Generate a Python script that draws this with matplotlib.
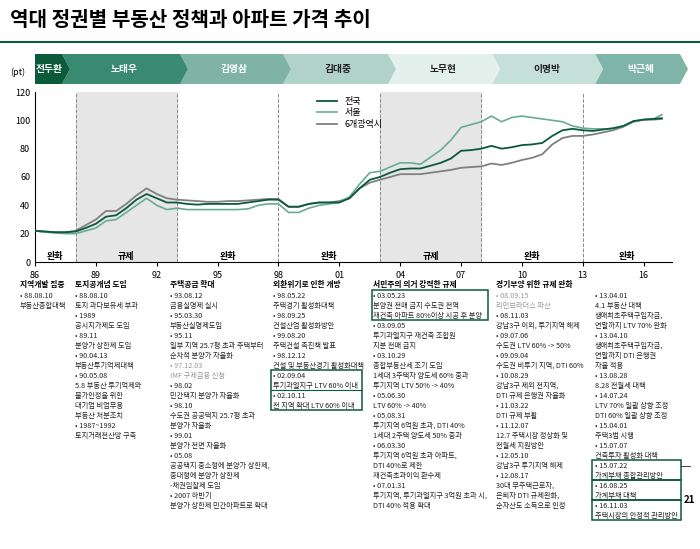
import matplotlib
matplotlib.use("Agg")
import matplotlib.pyplot as plt
from matplotlib import font_manager as fm
from matplotlib.patches import Polygon, Rectangle
import numpy as np

_names = {f.name for f in fm.fontManager.ttflist}
_cjk = [n for n in ['Noto Sans CJK KR', 'Noto Sans CJK SC', 'Noto Sans CJK JP'] if n in _names]
if not _cjk:
    for f in fm.findSystemFonts():
        if 'CJK' in f or 'cjk' in f:
            fm.fontManager.addfont(f)
    _cjk = [f.name for f in fm.fontManager.ttflist if 'CJK' in f.name][:1]
plt.rcParams['font.family'] = _cjk + ['DejaVu Sans']

years = np.arange(1986, 2017, 0.5).tolist() + [2016.9]
national = [22,21.5,21,21,21.5,24,27,32,33,38,44,48,45,42,42,41,40.5,41,41,41,41,42,43,44,44,39,39,41,42,42,42,45,52,58,60,63,65.5,66,66,68,70,73,78.5,79,80,82,80,81,82.5,83,84,89,93,94,93,92.5,93.5,94.5,96,99.5,100.5,101,101.5]
seoul = [22,21,20.5,20,20,22,24,29,30,35,40,45,40,37,38,37,37,37,37,37,37,37.5,40,41,41,35,35,38,40,41,42,46,55,63,64,67,70,70,69,74,79,86,95,97,99,103,99,102,103,102,101,100,99,96,94.5,94,94,94,96,99,100.5,101,104]
metro6 = [22,21.5,21,21,22,26,30,36,36,41,47,52,48,45,44,43.5,43,42.5,42.5,43,43,43.5,44,44.5,44.5,39,39,41,42,42,43,45,52,56,58,60,62,62,62,63,64,65,66.5,67,67.5,69.5,68.5,70,72,73.5,76,83,87.5,89,89,90,91.5,93,95.5,99,100.5,100.5,101]
series_names = ['전국', '서울', '6개광역시']
tick_years = [1986,1989,1992,1995,1998,2001,2004,2007,2010,2013,2016]
tick_labels = ['86','89','92','95','98','01','04','07','10','13','16']
boundaries = [1988, 1993, 1998, 2003, 2008, 2013]
regimes = [(1986,1988,'완화'),(1988,1993,'규제'),(1993,1998,'완화'),(1998,2003,'완화'),
           (2003,2008,'규제'),(2008,2013,'완화'),(2013,2017.4,'완화')]
presidents = ['전두환','노태우','김영삼','김대중','노무현','이명박','박근혜']

W, H = 700, 549
fig = plt.figure(figsize=(7, 5.49), dpi=100)
def P(x, y): return (x / W, 1 - y / H)

fig.text(*P(10, 20), '역대 정권별 부동산 정책과 아파트 가격 추이', fontsize=14.5, fontweight='bold', va='center', ha='left')
fig.add_artist(plt.Line2D([0, 1], [1-42/H]*2, color='#0b5a3a', lw=1.5))

bx = [35, 62, 180, 283, 388, 492, 595, 680]
fills = ['#0b5a3a', '#3a8a72', '#7fb3a5', '#b0d2c8', '#e4f0ec', '#c5e0d8', '#7fb5a8']
tcols = ['white', 'white', 'white', '#222', '#222', '#222', 'white']
y0, y1, tip = 54, 84, 8
for i, name in enumerate(presidents):
    xa, xb = bx[i], bx[i+1]
    pts = [P(xa, y0), P(xb, y0), P(xb+tip, (y0+y1)/2), P(xb, y1), P(xa, y1)]
    if i > 0:
        pts.append(P(xa+tip, (y0+y1)/2))
    fig.add_artist(Polygon(pts, closed=True, transform=fig.transFigure, fc=fills[i], ec='none', zorder=len(presidents)-i))
    fig.text(*P((xa+xb)/2 + (3 if i else 1), (y0+y1)/2), name, color=tcols[i], fontsize=7, fontweight='bold', ha='center', va='center', zorder=20)
fig.text(*P(10, 72), '(pt)', fontsize=6.5, va='center')

ax = fig.add_axes([35/W, 1-262/H, 637/W, 170/H])
ax.set_xlim(1986, 2017.4)
ax.set_ylim(0, 120)
for a, b, lab in regimes:
    if lab == '규제':
        ax.axvspan(a, b, color='#e6e6e6', zorder=0)
    ax.text((a+b)/2, 4, lab, ha='center', va='center', fontsize=6.5, fontweight='bold')
for b in boundaries:
    ax.axvline(b, color='#888', lw=0.7, ls='--', zorder=1)
ax.plot(years, metro6, color='#808080', lw=1.3, label=series_names[2], zorder=3)
ax.plot(years, seoul, color='#6aaa9a', lw=1.2, label=series_names[1], zorder=3)
ax.plot(years, national, color='#0b5a3a', lw=1.3, label=series_names[0], zorder=4)
h, l = ax.get_legend_handles_labels()
ax.legend(h[::-1], l[::-1], loc='upper left', bbox_to_anchor=(0.43, 1.02), frameon=False,
          fontsize=6.5, handlelength=2.2, labelspacing=0.3)
ax.set_xticks(tick_years)
ax.set_xticklabels(tick_labels, fontsize=6.5)
ax.set_yticks(range(0, 121, 20))
ax.tick_params(axis='y', labelsize=6.5, length=0)
ax.tick_params(axis='x', length=3)
for s in ['top', 'right']:
    ax.spines[s].set_visible(False)

cols = [
 (20, '지역개발 집중', ['• 88.08.10', '부동산종합대책']),
 (75, '토지공개념 도입', ['• 88.08.10','토지 과다보유세 부과','• 1989','공시지가제도 도입','• 89.11','분양가 상한제 도입','• 90.04.13','부동산투기억제대책','• 90.05.08','5.8 부동산 투기억제와','물가안정을 위한','대기업 비업무용','부동산 처분조치','• 1987~1992','토지거래전산망 구축']),
 (170, '주택공급 확대', ['• 93.08.12','금융실명제 실시','• 95.03.30','부동산실명제도입','• 95.11','일부 지역 25.7평 초과 주택부터','순차적 분양가 자율화','• 97.12.03','IMF 구제금융 신청','• 98.02','민간택지 분양가 자율화','• 98.10','수도권 공공택지 25.7평 초과','분양가 자율화','• 99.01','분양가 전면 자율화','• 05.08','공공택지 중소형에 분양가 상한제,','중대형에 분양가 상한제','-채권입찰제 도입','• 2007 하반기','분양가 상한제 민간아파트로 확대']),
 (273, '외환위기로 인한 개방', ['• 98.05.22','주택경기 활성화대책','• 98.09.25','건설산업 활성화방안','• 99.08.20','주택건설 촉진책 발표','• 98.12.12','건설 및 부동산경기 활성화대책','• 02.09.04','투기과열지구 LTV 60% 이내','• 02.10.11','전 지역 확대 LTV 60% 이내']),
 (373, '서민주의 의거 강력한 규제', ['• 03.05.23','분양권 전매 금지 수도권 전역','재건축 아파트 80%이상 시공 후 분양','• 03.09.05','투기과열지구 재건축 조합원','지분 전매 금지','• 03.10.29','종합부동산세 조기 도입','1세대 3주택자 양도세 60% 중과','투기지역 LTV 50% -> 40%','• 05.06.30','LTV 60% -> 40%','• 05.08.31','투기지역 6억원 초과, DTI 40%','1세대 2주택 양도세 50% 중과','• 06.03.30','투기지역 6억원 초과 아파트,','DTI 40%로 제한','재건축초과이익 환수제','• 07.01.31','투기지역, 투기과열지구 3억원 초과 시,','DTI 40% 적용 확대']),
 (496, '경기부양 위한 규제 완화', ['• 08.09.15','리먼브라더스 파산','• 08.11.03','강남3구 이외, 투기지역 해제','• 09.07.06','수도권 LTV 60% -> 50%','• 09.09.04','수도권 비투기 지역, DTI 60%','• 10.08.29','강남3구 제외 전지역,','DTI 규제 은행권 자율화','• 11.03.22','DTI 규제 부활','• 11.12.07','12.7 주택시장 정상화 및','전월세 지원방안','• 12.05.10','강남3구 투기지역 해제','• 12.08.17','30대 무주택근로자,','은퇴자 DTI 규제완화,','순자산도 소득으로 인정']),
 (595, None, ['• 13.04.01','4.1 부동산 대책','생애최초주택구입자금,','연말까지 LTV 70% 완화','• 13.04.10','생애최초주택구입자금,','연말까지 DTI 은행권','자율 적용','• 13.08.28','8.28 전월세 대책','• 14.07.24','LTV 70% 일괄 상향 조정','DTI 60% 일괄 상향 조정','• 15.04.01','주택3법 시행','• 15.07.07','건축투자 활성화 대책','• 15.07.22','가계부채 종합관리방안','• 16.08.25','가계부채 대책','• 16.11.03','주택시장의 안정적 관리방안']),
]
gray_lines = {'• 97.12.03', 'IMF 구제금융 신청', '• 08.09.15', '리먼브라더스 파산'}
for x, head, lines in cols:
    if head:
        fig.text(*P(x, 285), head, fontsize=5.6, fontweight='bold', va='center')
    for k, t in enumerate(lines):
        fig.text(*P(x, 296 + 10*k), t, fontsize=5.2, va='center',
                 color='#999' if t in gray_lines else '#222')

def box(x0, y0, x1, y1):
    fig.add_artist(Rectangle(P(x0, y1), (x1-x0)/W, (y1-y0)/H, transform=fig.transFigure,
                             fill=False, ec='#0b5a3a', lw=1.1))
box(271, 370, 362, 410); fig.add_artist(plt.Line2D([271/W, 362/W], [1-390/H]*2, color='#0b5a3a', lw=0.8))
box(372, 290, 488, 320)
box(592, 460, 681, 480)
box(592, 480, 681, 500)
box(592, 500, 681, 520)
fig.text(*P(684, 500), '21', fontsize=7, fontweight='bold', va='center')
fig.add_artist(plt.Line2D([681/W, 690/W], [1-466/H]*2, color='#222', lw=0.6))

fig.savefig('out.png', dpi=100)
